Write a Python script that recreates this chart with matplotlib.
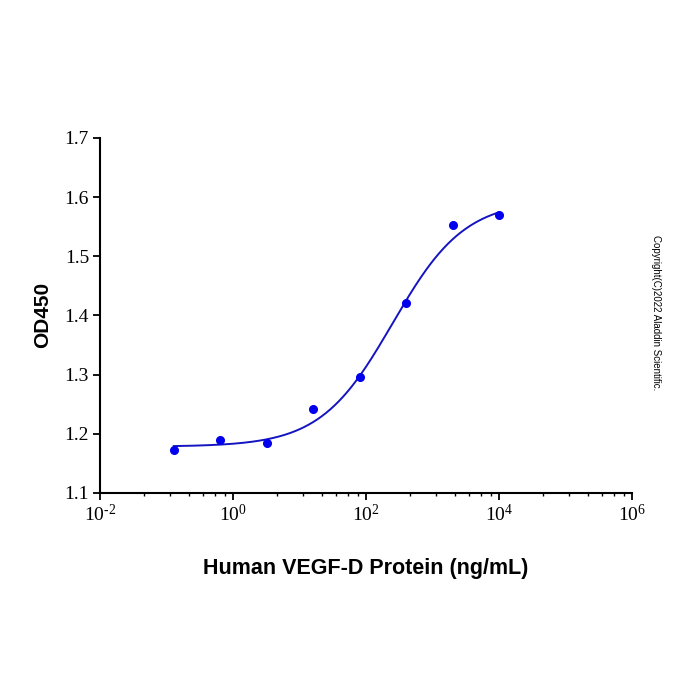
import matplotlib
matplotlib.use("Agg")
import matplotlib.pyplot as plt
import numpy as np
from matplotlib.ticker import FixedLocator

# measured points (5-fold dilution)
conc = [0.128, 0.64, 3.2, 16, 80, 400, 2000, 10000]
od450 = [1.173, 1.190, 1.185, 1.241, 1.296, 1.421, 1.552, 1.570]

# 4PL fit parameters (bottom, hill, ec50, top)
bottom, hill, ec50, top = 1.178, 0.8, 250.0, 1.595

xticks = [1e-2, 1e0, 1e2, 1e4, 1e6]
xticklabels = [r"$10^{\text{-}2}$", r"$10^{0}$", r"$10^{2}$", r"$10^{4}$", r"$10^{6}$"]
yticks = [1.1, 1.2, 1.3, 1.4, 1.5, 1.6, 1.7]

plt.rcParams['mathtext.fontset'] = 'custom'
plt.rcParams['mathtext.rm'] = 'Liberation Serif'
plt.rcParams['mathtext.it'] = 'Liberation Serif'

fig = plt.figure(figsize=(7, 7), dpi=100)
ax = fig.add_axes([0.143, 0.296, 0.760, 0.507])

xf = np.logspace(np.log10(conc[0]), np.log10(conc[-1]), 300)
yf = top + (bottom - top) / (1 + (xf / ec50) ** hill)
ax.plot(xf, yf, color="#1414c0", lw=1.4)
ax.plot(conc, od450, "o", color="#0000ee", ms=5.5)

ax.set_xscale("log")
ax.set_xlim(1e-2, 1e6)
ax.set_ylim(1.1, 1.7)
ax.xaxis.set_major_locator(FixedLocator(xticks))
ax.set_xticklabels(xticklabels)
# the original software spaces 6 minor ticks across each 2-decade step
minor = []
for m in xticks[:-1]:
    for j in range(2, 8):
        minor.append(m * 100 ** (np.log(j) / np.log(8)))
ax.xaxis.set_minor_locator(FixedLocator(minor))
ax.xaxis.set_minor_formatter(plt.NullFormatter())
ax.set_yticks(yticks)
ax.set_yticklabels(["%.1f" % v for v in yticks])

for s in ["top", "right"]:
    ax.spines[s].set_visible(False)
for s in ["left", "bottom"]:
    ax.spines[s].set_linewidth(1.5)

ax.tick_params(axis="both", which="major", direction="out", length=5, width=1.3,
               labelsize=14, labelfontfamily="Liberation Serif", pad=3)
ax.tick_params(axis="x", which="minor", direction="out", length=2.5, width=1)

ax.set_xlabel("Human VEGF-D Protein (ng/mL)", fontsize=15.5, fontweight="bold",
              family="Liberation Sans", labelpad=24)
ax.set_ylabel("OD450", fontsize=15, fontweight="bold", family="Liberation Sans",
              labelpad=9)

fig.text(0.937, 0.554, "Copyright(C)2022 Aladdin Scientific.", rotation=-90,
         fontsize=7, family="Liberation Sans", ha="center", va="center")

fig.savefig("out.png", dpi=100)
